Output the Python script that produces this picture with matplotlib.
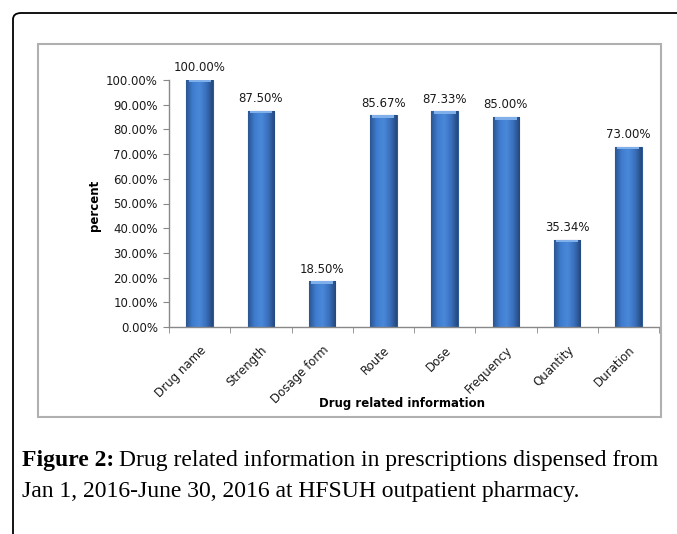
import matplotlib
matplotlib.use("Agg")
import matplotlib.pyplot as plt
import numpy as np
from matplotlib.patches import FancyBboxPatch, Rectangle
from matplotlib.colors import LinearSegmentedColormap

categories = ["Drug name", "Strength", "Dosage form", "Route", "Dose",
              "Frequency", "Quantity", "Duration"]
values = [100.00, 87.50, 18.50, 85.67, 87.33, 85.00, 35.34, 73.00]
yticks = [0, 10, 20, 30, 40, 50, 60, 70, 80, 90, 100]
value_labels = ["100.00%", "87.50%", "18.50%", "85.67%", "87.33%", "85.00%", "35.34%", "73.00%"]

W, H = 677, 534
fig = plt.figure(figsize=(W / 100, H / 100), dpi=100)
fig.patch.set_facecolor("white")

def fx(px):
    return px / W

def fy(py):
    return 1 - py / H

# outer frame (rounded top-left corner, extends past right/bottom edges)
frame = FancyBboxPatch((fx(13), fy(560)), fx(700), fy(13) - fy(560),
                       boxstyle="round,pad=0,rounding_size=0.012",
                       transform=fig.transFigure, fill=False,
                       edgecolor="black", linewidth=1.3, clip_on=False)
fig.patches.append(frame)

# inner chart box
box = Rectangle((fx(38), fy(417)), fx(661) - fx(38), fy(44) - fy(417),
                transform=fig.transFigure, fill=False,
                edgecolor="#b0b0b0", linewidth=1.5)
fig.patches.append(box)

ax = fig.add_axes([fx(169), fy(327), fx(659) - fx(169), fy(80) - fy(327)])
x = np.arange(len(categories))
bars = ax.bar(x, values, width=0.43, color="#3b72c0", edgecolor="#2d5a96",
              linewidth=0.8, zorder=2)

# horizontal gradient inside bars
cmap = LinearSegmentedColormap.from_list(
    "bar", ["#2b5590", "#3f7dd0", "#4a88da", "#3a70bd", "#24487c"])
grad = np.linspace(0, 1, 64).reshape(1, -1)
for b in bars:
    x0, y0 = b.get_x(), b.get_y()
    w, h = b.get_width(), b.get_height()
    im = ax.imshow(grad, extent=[x0, x0 + w, y0, y0 + h], cmap=cmap,
                   aspect="auto", zorder=2.5, interpolation="bicubic")
    im.set_clip_path(b)
    # light cap at top
    ax.add_patch(Rectangle((x0 + w * 0.08, y0 + h - 1.0), w * 0.84, 1.0,
                           facecolor="#7fb0ea", edgecolor="none", zorder=2.6))

ax.set_xlim(-0.5, len(categories) - 0.5)
ax.set_ylim(0, 100)

ax.set_yticks(yticks)
ax.set_yticklabels([f"{t:.2f}%" for t in yticks], fontsize=8.5, color="#1a1a1a")
ax.set_xticks(x)
ax.set_xticklabels(categories, rotation=45, ha="right", va="top",
                   rotation_mode="anchor", fontsize=8.5, color="#1a1a1a")
ax.tick_params(axis="x", length=0, pad=12)
ax.set_xticks(np.arange(len(categories) + 1) - 0.5, minor=True)
ax.tick_params(axis="x", which="minor", length=4, color="#888888")
ax.tick_params(axis="y", length=4, color="#888888", pad=4)

for s in ["top", "right"]:
    ax.spines[s].set_visible(False)
for s in ["left", "bottom"]:
    ax.spines[s].set_color("#888888")
    ax.spines[s].set_linewidth(1.0)

for b, lab in zip(bars, value_labels):
    ax.annotate(lab, (b.get_x() + b.get_width() / 2, b.get_height()),
                xytext=(0, 4), textcoords="offset points",
                ha="center", va="bottom", fontsize=8.5, color="#1a1a1a")

fig.text(fx(95), fy(205), "percent", rotation=90, ha="center", va="center",
         fontsize=8.5, fontweight="bold")
fig.text(fx(402), fy(403), "Drug related information", ha="center",
         va="center", fontsize=8.5, fontweight="bold")

# caption
fig.text(fx(22), fy(466), "Figure 2:", fontsize=17, fontweight="bold",
         family="Liberation Serif", va="baseline", ha="left")
fig.text(fx(119), fy(466), "Drug related information in prescriptions dispensed from",
         fontsize=17, family="Liberation Serif", va="baseline", ha="left")
fig.text(fx(22), fy(497), "Jan 1, 2016-June 30, 2016 at HFSUH outpatient pharmacy.",
         fontsize=17, family="Liberation Serif", va="baseline", ha="left")

fig.savefig("out.png", dpi=100)
